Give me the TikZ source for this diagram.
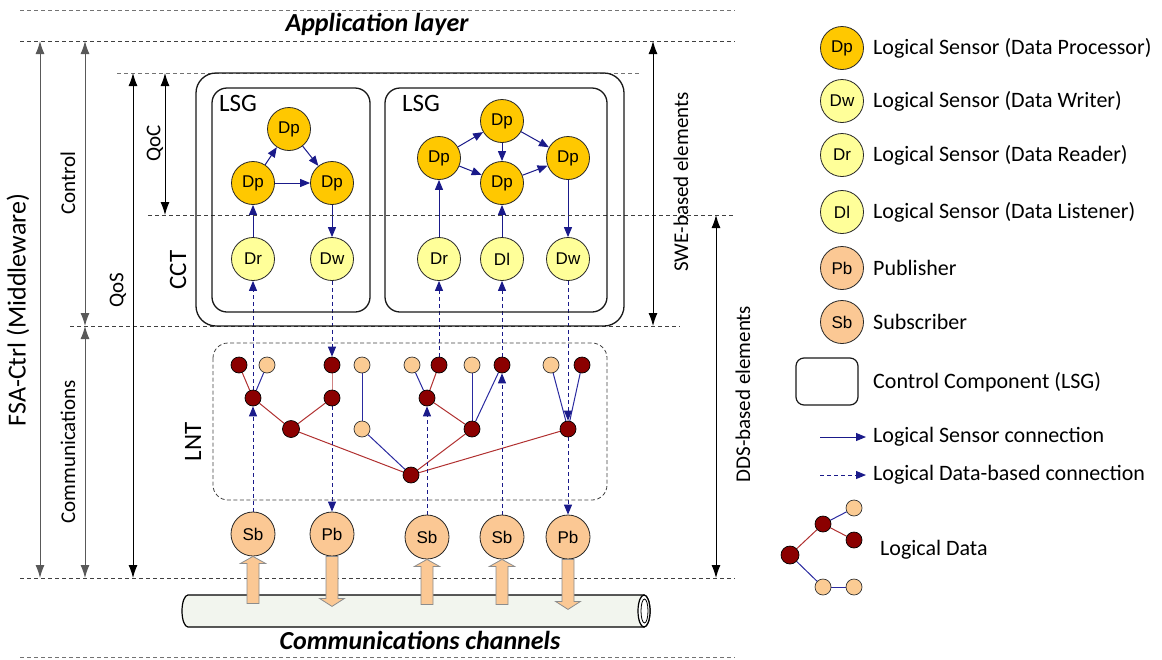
\documentclass[tikz,border=0pt]{standalone}
\usepackage{fontspec}
\setmainfont{Carlito}
\newfontfamily\nodefont{Liberation Sans}
\usetikzlibrary{arrows.meta,backgrounds}

\definecolor{dpfill}{HTML}{FFC800}
\definecolor{drfill}{HTML}{FFFF99}
\definecolor{psfill}{HTML}{FBC894}
\definecolor{ldred}{HTML}{8B0000}
\definecolor{ldpeach}{HTML}{FBCB93}
\definecolor{navy}{HTML}{1A1A8A}
\definecolor{treered}{HTML}{B03030}
\definecolor{treeblue}{HTML}{2A2AA0}
\definecolor{pipefill}{HTML}{F2F5EE}

\tikzset{
  fs/.style={font=\fontsize{#1}{#1}\selectfont},
  title/.style={font=\fontsize{26}{26}\selectfont\bfseries\itshape},
  sensor/.style={circle, draw=black!85, line width=0.8pt, minimum size=43pt,
    inner sep=0pt, font=\nodefont\fontsize{17}{17}\selectfont},
  dpnode/.style={sensor, fill=dpfill},
  drnode/.style={sensor, fill=drfill},
  psnode/.style={sensor, fill=psfill, minimum size=44pt},
  ldk/.style={circle, draw=black, line width=0.7pt, fill=ldred, minimum size=16pt, inner sep=0pt},
  llt/.style={circle, draw=black!80, line width=0.7pt, fill=ldpeach, minimum size=16pt, inner sep=0pt},
  lsconn/.style={navy, line width=1pt, -{Triangle[length=10pt,width=8pt]}},
  ldconn/.style={lsconn, dash pattern=on 4pt off 3pt},
  redge/.style={treered, line width=1pt},
  bedge/.style={treeblue, line width=1pt},
  guide/.style={black!75, line width=0.8pt, dash pattern=on 4pt off 3pt},
  dimarr/.style={line width=1pt, {Latex[length=13pt,width=9pt]}-{Latex[length=13pt,width=9pt]}},
  blockarr/.style={fill=psfill, draw=black!45, line width=0.8pt},
  lbl/.style={fs=#1, rotate=90, inner sep=0pt},
  lgtext/.style={fs=22, anchor=west, inner sep=0pt},
  box/.style={draw=black!90, line width=1.3pt},
}

\begin{document}
\begin{tikzpicture}[x=1pt,y=-1pt]
\useasboundingbox (0,0) rectangle (1162,659);

% layer guides
\draw[guide, black!55] (20,10) -- (735,10);
\draw[guide] (20,41) -- (735,41);
\draw[guide, black!55] (117,73) -- (640,73);
\draw[guide] (148,215) -- (735,215);
\draw[guide] (70,326) -- (680,326);
\draw[guide] (20,578) -- (735,578);
\draw[guide, black!55] (20,657) -- (735,657);

\node[title] (applayer) at (377,24) {Application layer};
\node[title] (commch) at (420,640) {Communications channels};

% dimension arrows on the left
\coordinate (fsaT) at (40,41);  \coordinate (fsaB) at (40,578);
\coordinate (ctlT) at (85,41);  \coordinate (ctlM) at (85,326); \coordinate (ctlB) at (85,578);
\coordinate (qosT) at (133,73); \coordinate (qosB) at (133,578);
\coordinate (qocT) at (165,73); \coordinate (qocB) at (165,215);
\draw[dimarr, black!65] (fsaT) -- (fsaB);
\draw[dimarr, black!65] (ctlT) -- (ctlM);
\draw[dimarr, black!65] (ctlM) -- (ctlB);
\draw[dimarr] (qosT) -- (qosB);
\draw[dimarr] (qocT) -- (qocB);

\node[lbl=26] (fsalbl) at (18,310) {FSA-Ctrl (Middleware)};
\node[lbl=21] (ctllbl) at (68,183) {Control};
\node[lbl=21] (comlbl) at (68,452) {Communications};
\node[lbl=21] (qoslbl) at (118,290) {QoS};
\node[lbl=21] (qoclbl) at (155,143) {QoC};
\node[lbl=25] (cctlbl) at (178,270) {CCT};
\node[lbl=25] (lntlbl) at (193,442) {LNT};

% dimension arrows on the right
\coordinate (sweT) at (653,41);  \coordinate (sweB) at (653,326);
\coordinate (ddsT) at (716,215); \coordinate (ddsB) at (716,578);
\draw[dimarr] (sweT) -- (sweB);
\draw[dimarr] (ddsT) -- (ddsB);
\node[lbl=21] (swelbl) at (681,182) {SWE-based elements};
\node[lbl=21] (ddslbl) at (743,394) {DDS-based elements};

% control component tree and its two sensor groups
\draw[box, rounded corners=20pt] (196,73) rectangle (624,326);
\draw[box, rounded corners=15pt] (212,88) rectangle (370,312);
\draw[box, rounded corners=15pt] (385,88) rectangle (607,312);
\node[fs=25] (lsg1) at (238,103) {LSG};
\node[fs=25] (lsg2) at (421,103) {LSG};

% first group
\node[dpnode] (p1t) at (289,129) {Dp};
\node[dpnode] (p1l) at (253,183) {Dp};
\node[dpnode] (p1r) at (332,183) {Dp};
\node[drnode] (dr1) at (253,259) {Dr};
\node[drnode] (dw1) at (332,259) {Dw};

% second group
\node[dpnode] (p2l) at (439,158) {Dp};
\node[dpnode] (p2t) at (502,121) {Dp};
\node[dpnode] (p2m) at (502,183) {Dp};
\node[dpnode] (p2r) at (568,158) {Dp};
\node[drnode] (dr2) at (439,259) {Dr};
\node[drnode] (dl2) at (502,259) {Dl};
\node[drnode] (dw2) at (568,259) {Dw};

% logical network tree
\draw[black!75, line width=0.8pt, dash pattern=on 4pt off 2.5pt, rounded corners=15pt]
  (213,343) rectangle (607,500);
\node[ldk] (a1) at (239,365) {};
\node[llt] (a2) at (267,365) {};
\node[ldk] (a3) at (332,365) {};
\node[llt] (a4) at (362,365) {};
\node[llt] (a5) at (412,365) {};
\node[ldk] (a6) at (439,365) {};
\node[llt] (a7) at (472,365) {};
\node[ldk] (a8) at (502,365) {};
\node[llt] (a9) at (551,365) {};
\node[ldk] (a10) at (582,365) {};
\node[ldk] (b1) at (253,398) {};
\node[ldk] (b2) at (332,398) {};
\node[ldk] (b3) at (427,398) {};
\node[ldk, minimum size=17pt] (c1) at (291,429) {};
\node[llt] (c2) at (362,429) {};
\node[ldk] (c3) at (472,429) {};
\node[ldk] (c4) at (568,429) {};
\node[ldk] (rt) at (411,475) {};

% communication channel
\draw[line width=1.2pt, fill=pipefill]
  (188,595) -- (644,595) arc[start angle=-90, end angle=90, x radius=6, y radius=16]
  -- (188,627) arc[start angle=90, end angle=270, x radius=6, y radius=16] -- cycle;
\draw[line width=1.2pt, fill=white] (644,611) ellipse[x radius=6, y radius=16];
\draw[line width=0.8pt] (644.5,611) ellipse[x radius=3.5, y radius=12];

% publishers and subscribers
\node[psnode] (sb1) at (253,534) {Sb};
\node[psnode] (pb1) at (332,534) {Pb};
\node[psnode] (sb2) at (427,537) {Sb};
\node[psnode] (sb3) at (502,537) {Sb};
\node[psnode] (pb2) at (568,537) {Pb};

% block arrows between the channel and the endpoints
\draw[blockarr] (sb1.south) -- ++(12.5,7) -- ++(-6.5,0) -- ++(0,40) -- ++(-12,0) -- ++(0,-40) -- ++(-6.5,0) -- cycle;
\draw[blockarr] (sb2.south) -- ++(12.5,7) -- ++(-6.5,0) -- ++(0,38) -- ++(-12,0) -- ++(0,-38) -- ++(-6.5,0) -- cycle;
\draw[blockarr] (sb3.south) -- ++(12.5,7) -- ++(-6.5,0) -- ++(0,38) -- ++(-12,0) -- ++(0,-38) -- ++(-6.5,0) -- cycle;
\draw[blockarr] (pb1.south) ++(-6,0) -- ++(0,42) -- ++(-6.5,0) -- ++(12.5,8) -- ++(12.5,-8) -- ++(-6.5,0) -- ++(0,-42) -- cycle;
\draw[blockarr] (pb2.south) ++(-6,0) -- ++(0,42) -- ++(-6.5,0) -- ++(12.5,8) -- ++(12.5,-8) -- ++(-6.5,0) -- ++(0,-42) -- cycle;

% legend
\node[dpnode] (lgdp) at (842,48) {Dp};
\node[drnode] (lgdw) at (842,101) {Dw};
\node[drnode] (lgdr) at (842,155) {Dr};
\node[drnode] (lgdl) at (842,212) {Dl};
\node[psnode, minimum size=43pt] (lgpb) at (842,268) {Pb};
\node[psnode, minimum size=43pt] (lgsb) at (842,322) {Sb};
\node[lgtext] (lgdpt) at (873,48) {Logical Sensor (Data Processor)};
\node[lgtext] (lgdwt) at (873,101) {Logical Sensor (Data Writer)};
\node[lgtext] (lgdrt) at (873,155) {Logical Sensor (Data Reader)};
\node[lgtext] (lgdlt) at (873,212) {Logical Sensor (Data Listener)};
\node[lgtext] (lgpbt) at (873,268) {Publisher};
\node[lgtext] (lgsbt) at (873,322) {Subscriber};
\draw[box, line width=1.2pt, rounded corners=8pt] (796,358) rectangle (858,405);
\node[lgtext] (lgcct) at (873,382) {Control Component (LSG)};
\coordinate (lsa) at (820,437); \coordinate (lsb) at (866,437);
\coordinate (lda) at (820,475); \coordinate (ldb) at (866,475);
\draw[lsconn] (lsa) -- (lsb);
\draw[ldconn] (lda) -- (ldb);
\node[lgtext] (lgls) at (873,437) {Logical Sensor connection};
\node[lgtext] (lgld) at (873,475) {Logical Data-based connection};
\node[ldk, minimum size=18pt] (ld1) at (790,555) {};
\node[ldk] (ld2) at (823,524) {};
\node[llt] (ld3) at (854,508) {};
\node[ldk] (ld4) at (854,540) {};
\node[llt] (ld5) at (823,587) {};
\node[llt] (ld6) at (854,587) {};
\node[lgtext] (lgldt) at (880,550) {Logical Data};

\begin{pgfonlayer}{background}
  % sensor connections inside the groups
  \draw[lsconn] (p1l) -- (p1t);
  \draw[lsconn] (p1t) -- (p1r);
  \draw[lsconn] (p1l) -- (p1r);
  \draw[lsconn] (dr1) -- (p1l);
  \draw[lsconn] (p1r) -- (dw1);
  \draw[lsconn] (p2l) -- (p2t);
  \draw[lsconn] (p2t) -- (p2r);
  \draw[lsconn] (p2t) -- (p2m);
  \draw[lsconn] (p2l) -- (p2m);
  \draw[lsconn] (p2m) -- (p2r);
  \draw[lsconn] (dr2) -- (p2l);
  \draw[lsconn] (dl2) -- (p2m);
  \draw[lsconn] (p2r) -- (dw2);
  % logical data tree edges
  \draw[redge] (a1) -- (b1);
  \draw[bedge] (a2) -- (b1);
  \draw[redge, treered!60] (a3) -- (b2);
  \draw[redge] (b1) -- (c1);
  \draw[redge] (b2) -- (c1);
  \draw[bedge] (a4) -- (c2);
  \draw[bedge] (a5) -- (b3);
  \draw[redge] (a6) -- (b3);
  \draw[redge] (b3) -- (c3);
  \draw[bedge] (a7) -- (c3);
  \draw[bedge] (a8) -- (c3);
  \draw[bedge] (a9) -- (c4);
  \draw[bedge] (a10) -- (c4);
  \draw[redge] (c1) -- (rt);
  \draw[bedge] (c2) -- (rt);
  \draw[redge] (c3) -- (rt);
  \draw[redge] (c4) -- (rt);
  % data-based connections
  \draw[ldconn] (sb1) -- (b1);
  \draw[ldconn] (b1) -- (dr1);
  \draw[ldconn] (dw1) -- (a3);
  \draw[ldconn] (b2) -- (pb1);
  \draw[ldconn] (sb2) -- (b3);
  \draw[ldconn] (a6) -- (dr2);
  \draw[ldconn] (sb3) -- (a8);
  \draw[ldconn] (a8) -- (dl2);
  \draw[ldconn] (dw2) -- (c4);
  \draw[ldconn] (c4) -- (pb2);
  % legend tree
  \draw[redge] (ld1) -- (ld2);
  \draw[bedge] (ld2) -- (ld3);
  \draw[redge] (ld2) -- (ld4);
  \draw[bedge] (ld1) -- (ld5);
  \draw[bedge] (ld5) -- (ld6);
\end{pgfonlayer}
\end{tikzpicture}
\end{document}
